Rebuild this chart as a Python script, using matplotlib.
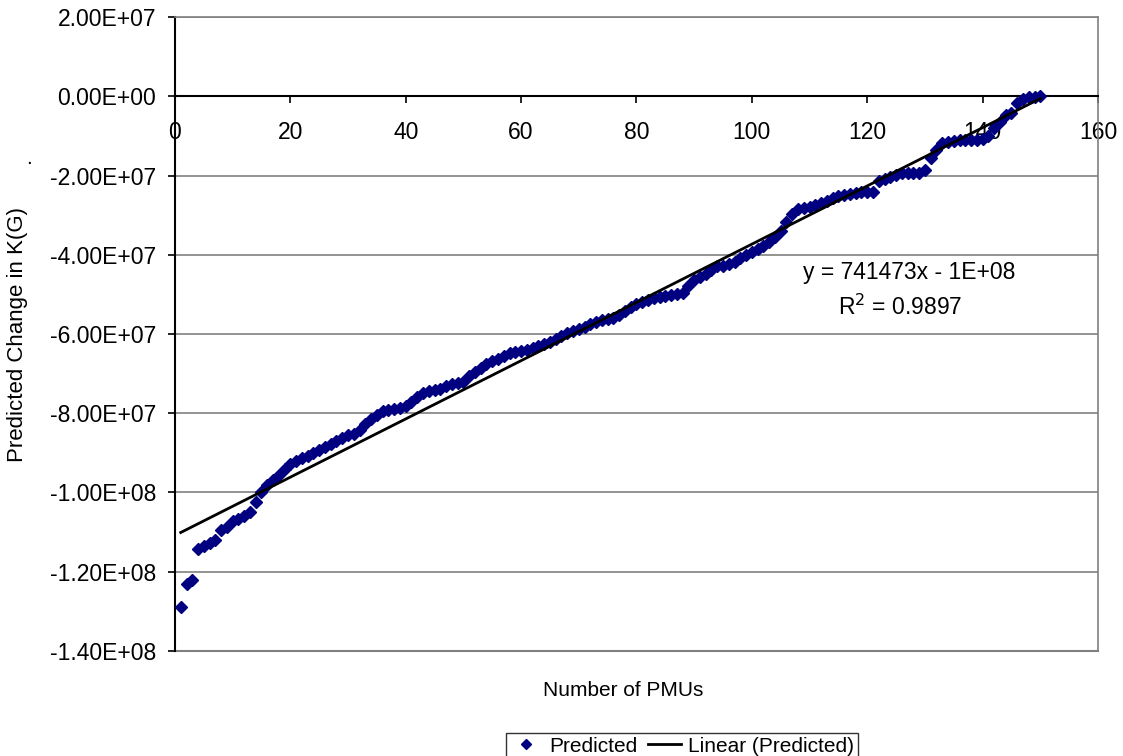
import matplotlib
matplotlib.use("Agg")
import matplotlib.pyplot as plt
import numpy as np
from matplotlib.ticker import FuncFormatter, MultipleLocator

plt.rcParams["font.family"] = ["Liberation Sans", "DejaVu Sans"]

# number of PMUs
pmus = list(range(1, 151))
# predicted change in K(G), millions
predicted_m = [
    -129.0, -123.0, -122.0, -114.3, -113.6, -112.8, -112.0, -109.5, -108.8, -107.3,
    -106.8, -106.0, -105.0, -102.5, -100.0, -98.2, -96.9, -95.7, -94.1, -92.9,
    -92.1, -91.4, -90.9, -90.1, -89.3, -88.6, -87.8, -87.1, -86.3, -85.6,
    -85.3, -84.3, -82.8, -81.5, -80.5, -79.5, -79.3, -79.0, -78.7, -78.2,
    -77.2, -76.0, -75.0, -74.5, -74.2, -74.0, -73.2, -72.7, -72.4, -72.2,
    -70.7, -69.7, -68.7, -67.6, -66.9, -66.4, -65.6, -64.9, -64.6, -64.4,
    -64.1, -63.6, -63.1, -62.6, -62.1, -61.3, -60.6, -59.8, -59.3, -58.8,
    -58.3, -57.5, -57.0, -56.5, -56.3, -56.0, -55.3, -54.3, -53.3, -52.5,
    -52.0, -51.5, -51.0, -50.7, -50.5, -50.2, -50.0, -49.7, -48.0, -46.4,
    -45.7, -44.9, -43.9, -42.9, -42.9, -42.4, -41.9, -40.9, -40.1, -39.4,
    -38.6, -37.9, -36.9, -35.6, -34.1, -31.8, -29.8, -28.5, -28.3, -28.0,
    -27.5, -27.0, -26.5, -25.7, -25.2, -25.0, -24.7, -24.5, -24.2, -24.2,
    -24.2, -21.5, -21.0, -20.4, -19.9, -19.4, -19.4, -19.4, -19.4, -18.7,
    -15.6, -13.6, -11.9, -11.6, -11.4, -11.1, -11.1, -11.1, -11.1, -10.9,
    -10.1, -8.1, -6.6, -4.8, -4.3, -1.8, -0.8, -0.3, -0.3, 0.0,
]
fit_label = "y = 741473x - 1E+08"
r2_label = "R$^2$ = 0.9897"

x = np.array(pmus, dtype=float)
y = np.array(predicted_m) * 1e6
slope, icpt = np.polyfit(x, y, 1)

fig = plt.figure(figsize=(11.23, 7.56), dpi=100)
ax = fig.add_axes([0.1558, 0.1389, 0.8219, 0.8386])

ax.plot(x, y, linestyle="none", marker="D", markersize=5.8, color="#000080",
        label="Predicted", zorder=3)
ax.plot(x, slope * x + icpt, color="black", linewidth=2.0,
        label="Linear (Predicted)", zorder=4)

ax.set_xlim(0, 160)
ax.set_ylim(-1.4e8, 2e7)
ax.xaxis.set_major_locator(MultipleLocator(20))
ax.yaxis.set_major_locator(MultipleLocator(2e7))
ax.yaxis.set_major_formatter(FuncFormatter(lambda v, p: f"{v:.2E}"))
ax.grid(axis="y", color="#808080", linewidth=1.2)
ax.set_axisbelow(True)

ax.spines["bottom"].set_position(("data", 0))
ax.spines["bottom"].set_linewidth(1.5)
ax.spines["left"].set_linewidth(1.5)
for s in ("top", "right"):
    ax.spines[s].set_color("#808080")
    ax.spines[s].set_linewidth(1.2)
ax.axhline(-1.4e8, color="#808080", linewidth=1.5, clip_on=False)

ax.tick_params(axis="both", labelsize=16.5, length=5, width=1.2, direction="out")
ax.tick_params(axis="y", pad=8.5)
ax.tick_params(axis="x", pad=13)

ax.text(127.3, -4.44e7, fit_label, ha="center", va="center", fontsize=16.5)
ax.text(125.8, -5.33e7, r2_label, ha="center", va="center", fontsize=16.5)

fig.text(0.555, 0.086, "Number of PMUs", ha="center", va="center", fontsize=15)
fig.text(0.016, 0.557, "Predicted Change in K(G)", ha="center", va="center",
         rotation=90, fontsize=16)
fig.text(0.026, 0.79, ".", ha="center", va="center", fontsize=15)

leg = fig.legend(loc="upper center", bbox_to_anchor=(0.607, 0.031), ncol=2,
                 fontsize=15, frameon=True, fancybox=False, edgecolor="black",
                 handlelength=1.6, handletextpad=0.3, columnspacing=0.5,
                 borderpad=0.2, borderaxespad=0, markerscale=0.8)
leg.get_frame().set_linewidth(1.0)

fig.savefig("out.png", dpi=100)
